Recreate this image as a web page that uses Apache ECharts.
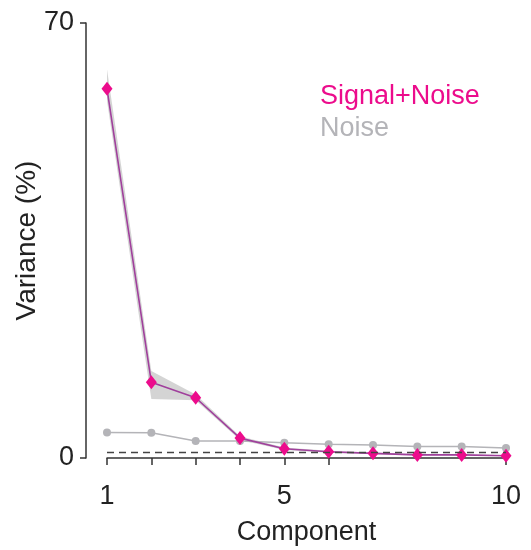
<!DOCTYPE html>
<html>
<head>
<meta charset="utf-8">
<script src="https://cdn.jsdelivr.net/npm/echarts@6/dist/echarts.min.js"></script>
<style>
  html, body { margin: 0; padding: 0; background: #fff; }
  #chart { width: 531px; height: 550px; }
</style>
</head>
<body>
<div id="chart"></div>
<script>
// Component index along the x axis
const components = ['1', '2', '3', '4', '5', '6', '7', '8', '9', '10'];
// Explained variance (%) per component
const signalNoise = [59.4, 12.2, 9.7, 3.2, 1.5, 1.0, 0.75, 0.5, 0.5, 0.35];
const noise = [4.1, 4.05, 2.75, 2.75, 2.45, 2.2, 2.1, 1.85, 1.85, 1.6];
// Spread around the Signal+Noise curve
const signalLower = [57.5, 9.5, 9.3, 2.9, 1.3, 0.85, 0.6, 0.4, 0.4, 0.25];
const signalUpper = [62.5, 14.0, 10.2, 3.5, 1.7, 1.15, 0.9, 0.6, 0.6, 0.45];
// Chance level
const chanceLevel = 0.9;
// Axis ticks / labels
const yTicks = [0, 70];
const xTickShown = ['1', '2', '3', '4', '5', '6', '10'];
const xLabelShown = ['1', '5', '10'];

const pink = '#ec0c8c';
const purple = '#a0409c';
const grey = '#b4b4b8';
const font = 'Liberation Sans, Arial, Helvetica, sans-serif';

const chart = echarts.init(document.getElementById('chart'), null, { renderer: 'canvas' });

chart.setOption({
  animation: false,
  textStyle: { fontFamily: font },
  grid: { left: 107, right: 25, top: 23, bottom: 92, outerBoundsMode: 'none', containLabel: false },
  legend: {
    orient: 'vertical',
    left: 315,
    top: 83,
    padding: 0,
    itemGap: 5,
    itemWidth: 0,
    icon: 'none',
    selectedMode: false,
    textStyle: { fontSize: 27, fontFamily: font },
    data: [
      { name: 'Signal+Noise', textStyle: { color: pink } },
      { name: 'Noise', textStyle: { color: grey } }
    ]
  },
  xAxis: {
    type: 'category',
    data: components,
    boundaryGap: false,
    offset: 13,
    name: 'Component',
    nameLocation: 'middle',
    nameGap: 48,
    nameMoveOverlap: false,
    nameTextStyle: { fontSize: 27, color: '#222', fontFamily: font },
    axisLine: { lineStyle: { color: '#333', width: 1.5 } },
    axisTick: {
      length: 7,
      lineStyle: { color: '#333', width: 1.5 },
      interval: (i, v) => xTickShown.includes(v)
    },
    axisLabel: {
      fontSize: 27,
      color: '#222',
      margin: 12,
      interval: (i, v) => xLabelShown.includes(v)
    },
    splitLine: { show: false }
  },
  yAxis: {
    type: 'value',
    min: yTicks[0],
    max: yTicks[1],
    interval: 70,
    offset: 21,
    name: 'Variance (%)',
    nameLocation: 'middle',
    nameGap: 45,
    nameMoveOverlap: false,
    nameTextStyle: { fontSize: 28, color: '#222', fontFamily: font },
    axisLine: { show: true, lineStyle: { color: '#333', width: 1.5 } },
    axisTick: { show: true, length: 6, lineStyle: { color: '#333', width: 1.5 } },
    axisLabel: { fontSize: 27, color: '#222', margin: 12 },
    splitLine: { show: false }
  },
  series: [
    {
      name: 'bandBase',
      type: 'line',
      stack: 'band',
      data: signalLower,
      symbol: 'none',
      lineStyle: { opacity: 0 },
      silent: true,
      z: 1
    },
    {
      name: 'bandSpan',
      type: 'line',
      stack: 'band',
      data: signalUpper.map((u, i) => u - signalLower[i]),
      symbol: 'none',
      lineStyle: { opacity: 0 },
      areaStyle: { color: '#cfcfcf', opacity: 0.9 },
      silent: true,
      z: 1
    },
    {
      name: 'Noise',
      type: 'line',
      data: noise,
      symbol: 'circle',
      symbolSize: 8,
      itemStyle: { color: grey },
      lineStyle: { color: grey, width: 1.5 },
      z: 2,
      markLine: {
        silent: true,
        symbol: 'none',
        label: { show: false },
        lineStyle: { color: '#444', type: [7, 5], width: 1.3 },
        data: [{ yAxis: chanceLevel }]
      }
    },
    {
      name: 'Signal+Noise',
      type: 'line',
      data: signalNoise,
      symbol: 'diamond',
      symbolSize: [11, 14],
      itemStyle: { color: pink },
      lineStyle: { color: purple, width: 1.6 },
      z: 3
    }
  ]
});
</script>
</body>
</html>
